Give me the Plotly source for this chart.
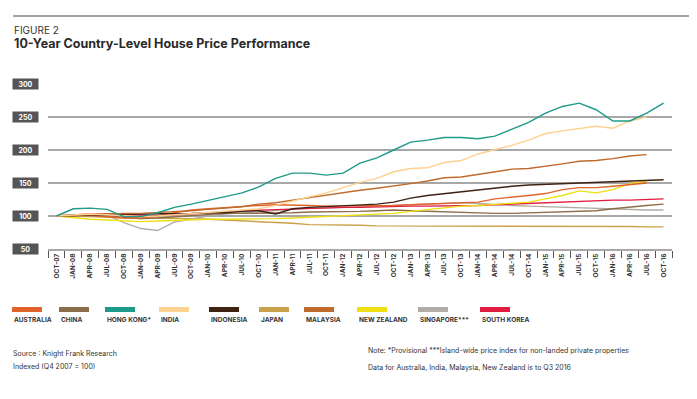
import plotly.graph_objects as go

# ---------------- data ----------------
quarters = ["OCT-07", "JAN-08", "APR-08", "JUL-08", "OCT-08", "JAN-09", "APR-09", "JUL-09", "OCT-09",
            "JAN-10", "APR-10", "JUL-10", "OCT-10", "JAN-11", "APR-11", "JUL-11", "OCT-11",
            "JAN-12", "APR-12", "JUL-12", "OCT-12", "JAN-13", "APR-13", "JUL-13", "OCT-13",
            "JAN-14", "APR-14", "JUL-14", "OCT-14", "JAN-15", "APR-15", "JUL-15", "OCT-15",
            "JAN-16", "APR-16", "JUL-16", "OCT-16"]

australia = [100, 102, 101, 99, 97, 97, 100, 105, 109, 111, 113, 115, 116, 117, 117, 116, 115,
             115, 115, 116, 116, 117, 118, 119, 120, 121, 126, 128, 131, 134, 140, 143, 143,
             145, 148, 150, None]
china = [100, 101, 101, 100, 98, 96, 97, 99, 101, 103, 104, 104, 104, 104, 105, 106, 106,
         106, 107, 108, 109, 108, 107, 106, 105, 104, 104, 104, 105, 105, 106, 107, 108,
         111, 114, 116, 118]
hong_kong = [100, 111, 112, 110, 99, 99, 105, 113, 118, 124, 129, 135, 144, 157, 165, 165, 162,
             165, 180, 188, 200, 212, 215, 219, 219, 217, 221, 232, 242, 256, 266, 271, 261,
             244, 244, 256, 271]
india = [100, 102, 103, 102, 100, 99, 100, 102, 104, 106, 107, 109, 111, 116, 123, 129, 135,
         143, 151, 157, 167, 172, 173, 181, 184, 194, 200, 207, 215, 225, 229, 233, 236,
         233, 244, 250, None]
indonesia = [100, 101, 102, 103, 103, 103, 103, 104, 104, 105, 105, 107, 108, 103, 111, 113, 114,
             115, 116, 118, 121, 127, 131, 134, 136, 139, 142, 145, 147, 148, 149, 150, 151,
             152, 153, 154, 155]
japan = [100, 100, 99, 98, 97, 96, 97, 97, 96, 95, 94, 92, 91, 90, 89, 87, 87,
         86, 86, 85, 85, 85, 85, 85, 84.5, 84.5, 84, 84, 84, 84, 84, 84, 84,
         84, 84, 83.5, 83.5]
malaysia = [100, 101, 103, 104, 104, 104, 105, 106, 108, 110, 112, 114, 118, 120, 124, 128, 132,
            135, 139, 142, 145, 149, 153, 158, 159, 163, 166, 171, 172, 175, 179, 183, 184,
            187, 191, 193, None]
new_zealand = [100, 97.5, 95, 94, 92.5, 91.5, 92.5, 93.5, 95, 95, 95, 95, 96, 96, 97, 98, 99,
               100, 101, 102, 104, 107, 110, 113, 115, 116, 118, 119, 121, 126, 131, 138, 135,
               140, 149, 153, None]
singapore = [100, 101, 102, 101, 90, 81, 78, 91, 96, 100, 103, 105, 107, 109, 111, 112, 112,
             113, 114, 115, 116, 117, 118, 119, 120, 119, 117, 116, 115, 114, 113, 112, 111,
             110, 110, 109, 109]
south_korea = [100, 102, 103, 103, 102, 101, 101, 102, 103, 105, 106, 108, 109, 110, 111, 112, 112,
               113, 113, 114, 114, 115, 115, 115, 115, 116, 117, 118, 119, 120, 121, 123, 124,
               124, 124, 125, 126]

series_names = ["AUSTRALIA", "CHINA", "HONG KONG*", "INDIA", "INDONESIA", "JAPAN", "MALAYSIA",
                "NEW ZEALAND", "SINGAPORE***", "SOUTH KOREA"]
series_values = [australia, china, hong_kong, india, indonesia, japan, malaysia,
                 new_zealand, singapore, south_korea]
y_ticks = [50, 100, 150, 200, 250, 300]

# ---------------- styles ----------------
colors = ["#E2622B", "#8C6E4B", "#1E9A8A", "#FDD290", "#3E2212", "#C9A24B", "#C06A2C",
          "#EEE012", "#B2ACA6", "#E21B40"]
legend_x = [12, 59, 105, 159, 209, 259, 304, 357, 418, 480]
draw_order = [5, 8, 1, 9, 7, 0, 4, 6, 3, 2]

PAGE_W, PAGE_H = 697, 399
OFF = 8  # browser body margin
W, H = PAGE_W - OFF, PAGE_H - OFF
PL, PR, PT, PB = 48, 672, 84, 249  # plot area in page pixels
FONT = "Inter"


def px(x):
    return (x - PL) / (PR - PL)


def py(y):
    return (PB - y) / (PB - PT)


fig = go.Figure()
for i in draw_order:
    fig.add_trace(go.Scatter(
        x=quarters, y=series_values[i], mode="lines", name=series_names[i],
        line=dict(color=colors[i], width=1.4), showlegend=False,
    ))

annotations = []
shapes = []

# title block
shapes.append(dict(type="line", xref="paper", yref="paper", x0=px(13), x1=px(697),
                   y0=py(16), y1=py(16), line=dict(color="#a3a3a3", width=2)))
annotations.append(dict(text="FIGURE 2", xref="paper", yref="paper", x=px(12), y=py(29.5),
                        xanchor="left", yanchor="middle", showarrow=False,
                        font=dict(family=FONT, size=10, color="#333333")))
annotations.append(dict(text="<b>10-Year Country-Level House Price Performance</b>",
                        xref="paper", yref="paper", x=px(12), y=py(43.5),
                        xanchor="left", yanchor="middle", showarrow=False,
                        font=dict(family=FONT, size=12.5, color="#2a2a2a")))

# y tick boxes
for v in y_ticks:
    annotations.append(dict(text=f"<b>{v}</b>", xref="paper", yref="y", x=px(25.5), y=v,
                            xanchor="center", yanchor="middle", showarrow=False,
                            bgcolor="#555555", width=25, height=10, borderpad=0,
                            font=dict(family=FONT, size=7, color="#ffffff")))

# custom legend
for name, col, lx in zip(series_names, colors, legend_x):
    shapes.append(dict(type="rect", xref="paper", yref="paper", x0=px(lx), x1=px(lx + 30),
                       y0=py(312), y1=py(307), fillcolor=col, line=dict(width=0)))
    annotations.append(dict(text=f"<b>{name}</b>", xref="paper", yref="paper", x=px(lx),
                            y=py(319.5), xanchor="left", yanchor="middle", showarrow=False,
                            font=dict(family=FONT, size=6.5, color="#333333")))

# footer
footer = [("Source : Knight Frank Research", 11, 353),
          ("Indexed (Q4 2007 = 100)", 11, 366.5),
          ("Note: *Provisional ***Island-wide price index for non-landed private properties", 366, 350),
          ("Data for Australia, India, Malaysia, New Zealand is to Q3 2016", 366, 367)]
for txt, fx, fy in footer:
    annotations.append(dict(text=txt, xref="paper", yref="paper", x=px(fx), y=py(fy),
                            xanchor="left", yanchor="middle", showarrow=False,
                            font=dict(family=FONT, size=7, color="#333333")))

fig.update_layout(
    width=W, height=H, autosize=False,
    margin=dict(l=PL - OFF, r=PAGE_W - PR, t=PT - OFF, b=PAGE_H - PB),
    paper_bgcolor="white", plot_bgcolor="white",
    font=dict(family=FONT, color="#333333"),
    annotations=annotations, shapes=shapes,
    xaxis=dict(type="category", categoryorder="array", categoryarray=quarters,
               range=[-0.5, len(quarters) - 0.5],
               showgrid=False, zeroline=False, showline=True, linecolor="#a8a8a8", linewidth=2,
               ticks="outside", tickson="boundaries", ticklen=7, tickwidth=1.2, tickcolor="#555555",
               tickangle=-90, tickfont=dict(family=FONT, size=6.5, color="#333333", weight="bold")),
    yaxis=dict(range=[50, 300], tickvals=y_ticks, showticklabels=False, showgrid=True,
               gridcolor="#a8a8a8", gridwidth=2, zeroline=False, showline=False, ticks=""),
)

fig.write_html("out.html")
